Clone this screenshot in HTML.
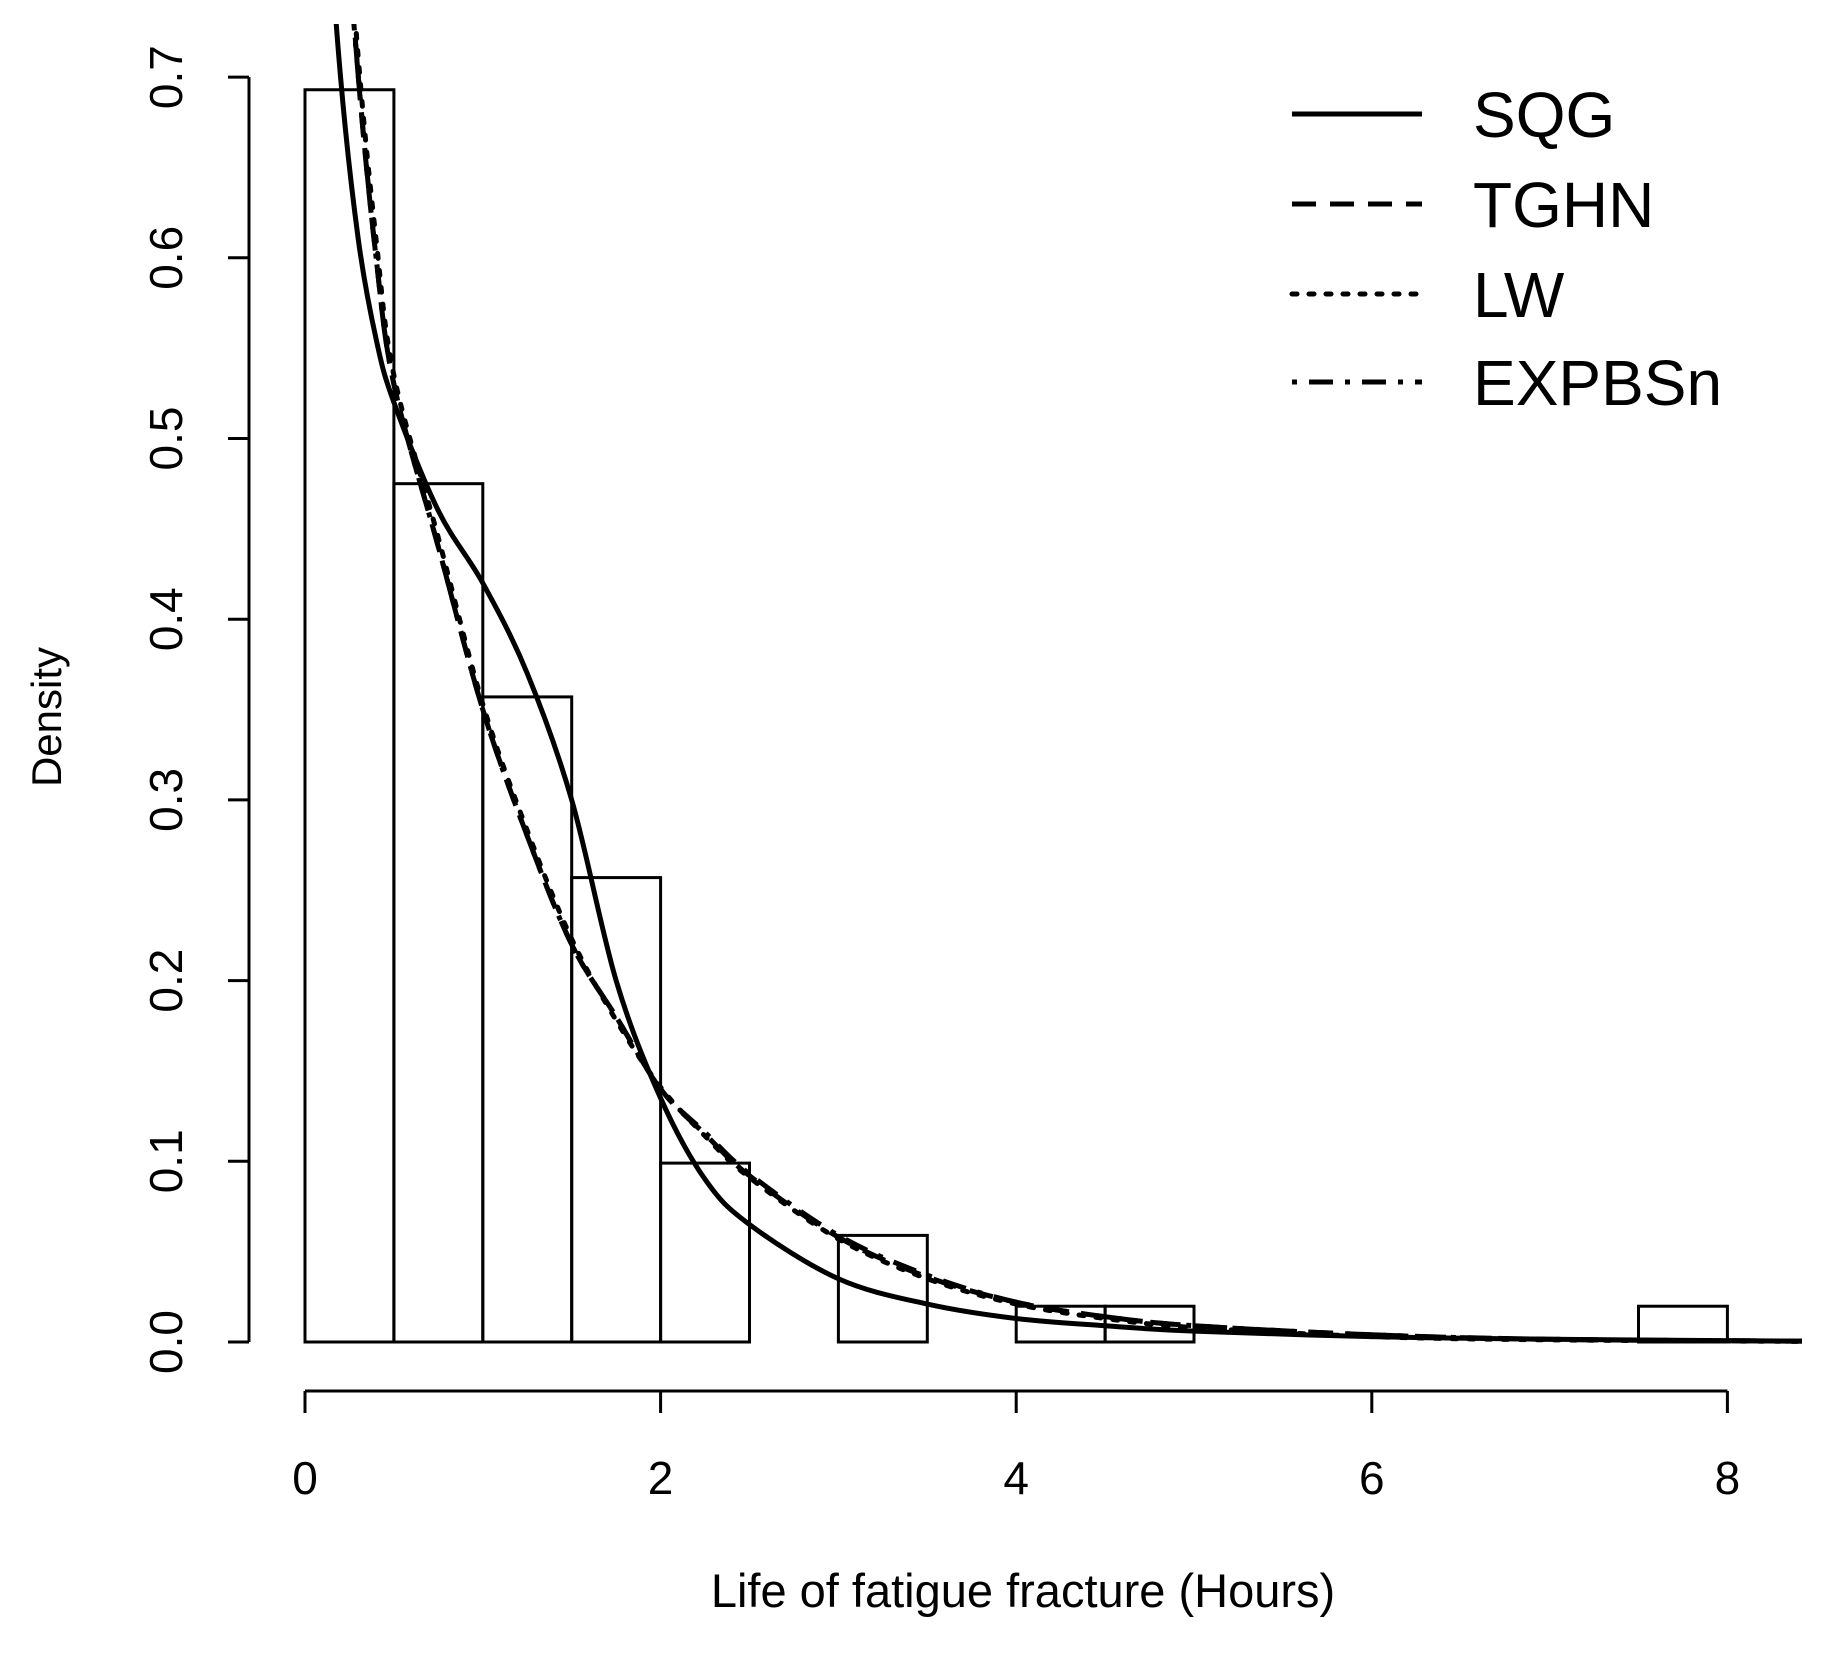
<!DOCTYPE html>
<html><head><meta charset="utf-8"><style>
body{margin:0;background:#fff}
svg{display:block;font-family:"Liberation Sans",Arial,sans-serif}
</style></head><body>
<svg id="chart" width="1831" height="1656" viewBox="0 0 1831 1656">
<defs><clipPath id="clip"><rect x="230" y="24" width="1572" height="1340"/></clipPath></defs>
<g id="bars"></g>
<g id="curves" clip-path="url(#clip)"></g>
<g id="axes"></g>
<text x="61" y="717" font-size="42" text-anchor="middle" transform="rotate(-90 61 717)">Density</text>
<text x="1023" y="1607" font-size="47" text-anchor="middle">Life of fatigue fracture (Hours)</text>
<g id="legend"></g>
</svg>
<script>
const binEdgesStart = [0,0.5,1,1.5,2,2.5,3,3.5,4,4.5,5,5.5,6,6.5,7,7.5];
const binDensity = [0.693,0.475,0.357,0.257,0.099,0,0.059,0,0.0198,0.0198,0,0,0,0,0,0.0198];
const xTicks = [0,2,4,6,8];
const yTicks = [0,0.1,0.2,0.3,0.4,0.5,0.6,0.7];
const yTickLabels = ["0.0","0.1","0.2","0.3","0.4","0.5","0.6","0.7"];
const curveX = [0.1,0.15,0.2,0.3,0.4,0.5,0.75,1,1.25,1.5,1.75,2,2.25,2.5,3,3.5,4,4.5,5,6,7,8.5];
const sqgY = [0.95,0.78,0.70,0.61,0.555,0.52,0.46,0.42,0.37,0.30,0.20,0.135,0.09,0.065,0.035,0.021,0.013,0.009,0.006,0.003,0.0015,0.0004];
const tghnY = [1.1,0.95,0.84,0.70,0.60,0.53,0.44,0.35,0.28,0.22,0.18,0.14,0.115,0.092,0.058,0.036,0.022,0.014,0.009,0.004,0.0015,0.0004];
const lwY = [1.1,0.96,0.85,0.71,0.61,0.535,0.445,0.353,0.283,0.223,0.178,0.141,0.114,0.091,0.057,0.035,0.021,0.013,0.008,0.003,0.0012,0.0003];
const expY = [1.1,0.94,0.83,0.70,0.60,0.53,0.44,0.35,0.28,0.22,0.18,0.14,0.116,0.093,0.059,0.037,0.022,0.014,0.009,0.004,0.0015,0.0004];
const seriesNames = ["SQG","TGHN","LW","EXPBSn"];

const NS="http://www.w3.org/2000/svg";
const X0=305, XS=177.8, Y0=1342, YS=1807;
const xs=v=>X0+v*XS, ys=v=>Y0-v*YS;
function mk(tag,attrs,parent){const e=document.createElementNS(NS,tag);for(const k in attrs)e.setAttribute(k,attrs[k]);parent.appendChild(e);return e;}
const bars=document.getElementById('bars'),curves=document.getElementById('curves'),axes=document.getElementById('axes'),legend=document.getElementById('legend');

binEdgesStart.forEach((s,i)=>{
  const r=mk('rect',{x:xs(s),y:ys(binDensity[i]),width:xs(s+0.5)-xs(s),height:ys(0)-ys(binDensity[i]),fill:'none',stroke:'#000','stroke-width':3},bars);
  
  
});

function pathFor(xv,yv){
  const p=xv.map((x,i)=>[xs(x),ys(yv[i])]);
  let d=`M${p[0][0]},${p[0][1]}`;
  for(let i=0;i<p.length-1;i++){
    const a=p[Math.max(0,i-1)],b=p[i],c=p[i+1],e=p[Math.min(p.length-1,i+2)];
    const c1=[b[0]+(c[0]-a[0])/6,b[1]+(c[1]-a[1])/6],c2=[c[0]-(e[0]-b[0])/6,c[1]-(e[1]-b[1])/6];
    d+=` C${c1[0]},${c1[1]} ${c2[0]},${c2[1]} ${c[0]},${c[1]}`;
  }
  return d;
}
const dashes=["","24,14","5,12","5,12,24,12"];
const allY=[sqgY,tghnY,lwY,expY];
allY.forEach((yv,i)=>{
  const p=mk('path',{d:pathFor(curveX,yv),fill:'none',stroke:'#000','stroke-width':5,'stroke-dasharray':dashes[i]||'none','stroke-linecap':i==2?'round':'butt'},curves);
  
  
});

mk('line',{x1:249,y1:ys(0),x2:249,y2:ys(0.7),stroke:'#000','stroke-width':3},axes);
yTicks.forEach((v,i)=>{
  mk('line',{x1:228,y1:ys(v),x2:249,y2:ys(v),stroke:'#000','stroke-width':3},axes);
  const t=mk('text',{x:182,y:ys(v),'font-size':46,'text-anchor':'middle',transform:`rotate(-90 182 ${ys(v)})`},axes);
  t.textContent=yTickLabels[i];
  
  
});
mk('line',{x1:xs(0),y1:1391,x2:xs(8),y2:1391,stroke:'#000','stroke-width':3},axes);
xTicks.forEach(v=>{
  mk('line',{x1:xs(v),y1:1391,x2:xs(v),y2:1413,stroke:'#000','stroke-width':3},axes);
  const t=mk('text',{x:xs(v),y:1494,'font-size':46,'text-anchor':'middle'},axes);
  t.textContent=String(v);
  
  
});
const legY=[114,204,294,382];
seriesNames.forEach((n,i)=>{
  const l=mk('line',{x1:1292,y1:legY[i],x2:1422,y2:legY[i],stroke:'#000','stroke-width':5,'stroke-dasharray':dashes[i]||'none','stroke-linecap':i==2?'round':'butt'},legend);
  
  
  const t=mk('text',{x:1473,y:legY[i]+23,'font-size':64},legend);
  t.textContent=n;
  
  
});
</script>
</body></html>
